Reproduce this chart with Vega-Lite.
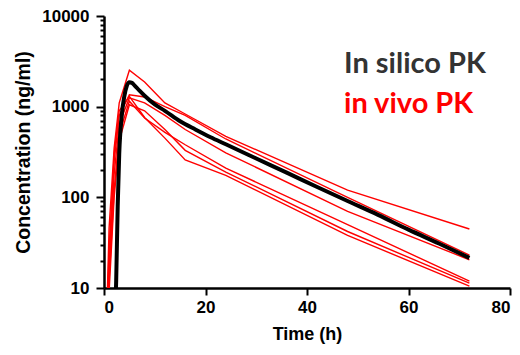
{
  "$schema": "https://vega.github.io/schema/vega-lite/v6.json",
  "autosize": "none",
  "width": 406,
  "height": 272,
  "padding": {"left": 104, "top": 16, "right": 10, "bottom": 67},
  "background": "white",
  "config": {"view": {"stroke": null}, "font": "Liberation Sans"},
  "datasets": {
    "vivo": [
      {"subject": "A", "t": 0.5, "c": 4}, {"subject": "A", "t": 1, "c": 46}, {"subject": "A", "t": 2, "c": 350}, {"subject": "A", "t": 3, "c": 1100}, {"subject": "A", "t": 5, "c": 2520}, {"subject": "A", "t": 8, "c": 1870}, {"subject": "A", "t": 12, "c": 1100}, {"subject": "A", "t": 16, "c": 830}, {"subject": "A", "t": 24, "c": 470}, {"subject": "A", "t": 48, "c": 120}, {"subject": "A", "t": 72, "c": 44.7},
      {"subject": "B", "t": 0.5, "c": 3}, {"subject": "B", "t": 1, "c": 27}, {"subject": "B", "t": 2, "c": 250}, {"subject": "B", "t": 3, "c": 800}, {"subject": "B", "t": 5, "c": 1350}, {"subject": "B", "t": 8, "c": 1280}, {"subject": "B", "t": 12, "c": 1000}, {"subject": "B", "t": 16, "c": 800}, {"subject": "B", "t": 24, "c": 440}, {"subject": "B", "t": 48, "c": 100}, {"subject": "B", "t": 72, "c": 23},
      {"subject": "C", "t": 0.5, "c": 2}, {"subject": "C", "t": 1, "c": 15}, {"subject": "C", "t": 2, "c": 180}, {"subject": "C", "t": 3, "c": 650}, {"subject": "C", "t": 5, "c": 1250}, {"subject": "C", "t": 8, "c": 1100}, {"subject": "C", "t": 12, "c": 800}, {"subject": "C", "t": 16, "c": 560}, {"subject": "C", "t": 24, "c": 310}, {"subject": "C", "t": 48, "c": 70}, {"subject": "C", "t": 72, "c": 20.5},
      {"subject": "D", "t": 0.5, "c": 2}, {"subject": "D", "t": 1, "c": 12}, {"subject": "D", "t": 2, "c": 120}, {"subject": "D", "t": 3, "c": 500}, {"subject": "D", "t": 5, "c": 1150}, {"subject": "D", "t": 8, "c": 750}, {"subject": "D", "t": 12, "c": 520}, {"subject": "D", "t": 16, "c": 380}, {"subject": "D", "t": 24, "c": 210}, {"subject": "D", "t": 48, "c": 50}, {"subject": "D", "t": 72, "c": 11.9},
      {"subject": "E", "t": 0.5, "c": 1.5}, {"subject": "E", "t": 1, "c": 9}, {"subject": "E", "t": 2, "c": 100}, {"subject": "E", "t": 3, "c": 420}, {"subject": "E", "t": 5, "c": 1050}, {"subject": "E", "t": 8, "c": 900}, {"subject": "E", "t": 12, "c": 560}, {"subject": "E", "t": 16, "c": 330}, {"subject": "E", "t": 24, "c": 190}, {"subject": "E", "t": 48, "c": 42}, {"subject": "E", "t": 72, "c": 11.3},
      {"subject": "F", "t": 0.5, "c": 3}, {"subject": "F", "t": 1, "c": 20}, {"subject": "F", "t": 2, "c": 300}, {"subject": "F", "t": 3, "c": 900}, {"subject": "F", "t": 5, "c": 1300}, {"subject": "F", "t": 8, "c": 760}, {"subject": "F", "t": 12, "c": 450}, {"subject": "F", "t": 16, "c": 258}, {"subject": "F", "t": 24, "c": 175}, {"subject": "F", "t": 48, "c": 38}, {"subject": "F", "t": 72, "c": 10.5}
    ],
    "silico": [
      {"t": 2.1, "c": 3}, {"t": 2.4, "c": 12}, {"t": 2.7, "c": 80}, {"t": 3.0, "c": 300}, {"t": 3.5, "c": 800}, {"t": 4, "c": 1300}, {"t": 4.5, "c": 1700}, {"t": 5, "c": 1860}, {"t": 5.5, "c": 1830}, {"t": 6, "c": 1720}, {"t": 7, "c": 1500}, {"t": 8, "c": 1320}, {"t": 10, "c": 1060}, {"t": 12, "c": 900}, {"t": 15, "c": 690}, {"t": 18, "c": 560}, {"t": 21, "c": 460}, {"t": 24, "c": 385}, {"t": 30, "c": 268}, {"t": 36, "c": 187}, {"t": 42, "c": 130}, {"t": 48, "c": 91}, {"t": 54, "c": 64}, {"t": 60, "c": 44}, {"t": 66, "c": 31}, {"t": 72, "c": 21.5}
    ]
  },
  "layer": [
    {
      "data": {"name": "vivo"},
      "mark": {"type": "line", "color": "#ff0000", "strokeWidth": 1.4, "clip": true},
      "encoding": {
        "x": {"field": "t", "type": "quantitative",
          "scale": {"domain": [0, 80], "nice": false},
          "axis": {"values": [0, 20, 40, 60, 80], "title": "Time (h)", "grid": false,
            "domainColor": "black", "domainWidth": 2.5, "tickColor": "black", "tickWidth": 2, "tickSize": 7,
            "labelFont": "Liberation Sans", "labelFontSize": 17, "labelFontWeight": "bold", "labelColor": "black", "labelPadding": 4,
            "titleFont": "Liberation Sans", "titleFontSize": 18, "titleFontWeight": "bold", "titleColor": "black", "titlePadding": 10}},
        "y": {"field": "c", "type": "quantitative",
          "scale": {"type": "log", "domain": [10, 10000], "nice": false},
          "axis": {"values": [10, 20, 30, 40, 50, 60, 70, 80, 90, 100, 200, 300, 400, 500, 600, 700, 800, 900, 1000, 2000, 3000, 4000, 5000, 6000, 7000, 8000, 9000, 10000],
            "labelExpr": "indexof([10,100,1000,10000], datum.value) >= 0 ? datum.value : ''",
            "title": "Concentration (ng/ml)", "grid": false,
            "domainColor": "black", "domainWidth": 2.5, "tickColor": "black", "tickWidth": 2,
            "tickSize": {"condition": {"test": "indexof([10,100,1000,10000], datum.value) >= 0", "value": 8}, "value": 4},
            "labelFont": "Liberation Sans", "labelFontSize": 17, "labelFontWeight": "bold", "labelColor": "black", "labelPadding": 7,
            "titleFont": "Liberation Sans", "titleFontSize": 19.5, "titleFontWeight": "bold", "titleColor": "black", "titlePadding": 8}},
        "detail": {"field": "subject"}
      }
    },
    {
      "data": {"name": "silico"},
      "mark": {"type": "line", "color": "black", "strokeWidth": 4, "clip": true, "interpolate": "monotone"},
      "encoding": {
        "x": {"field": "t", "type": "quantitative"},
        "y": {"field": "c", "type": "quantitative"}
      }
    },
    {
      "data": {"values": [{"label": "In silico PK"}]},
      "mark": {"type": "text", "align": "left", "baseline": "middle", "font": "Lato", "fontWeight": "bold", "fontSize": 29, "color": "#333333"},
      "encoding": {"x": {"datum": 47.3}, "y": {"datum": 2950}, "text": {"field": "label"}}
    },
    {
      "data": {"values": [{"label": "in vivo PK"}]},
      "mark": {"type": "text", "align": "left", "baseline": "middle", "font": "Lato", "fontWeight": "bold", "fontSize": 29, "color": "#ff0000"},
      "encoding": {"x": {"datum": 47.3}, "y": {"datum": 1075}, "text": {"field": "label"}}
    }
  ]
}
